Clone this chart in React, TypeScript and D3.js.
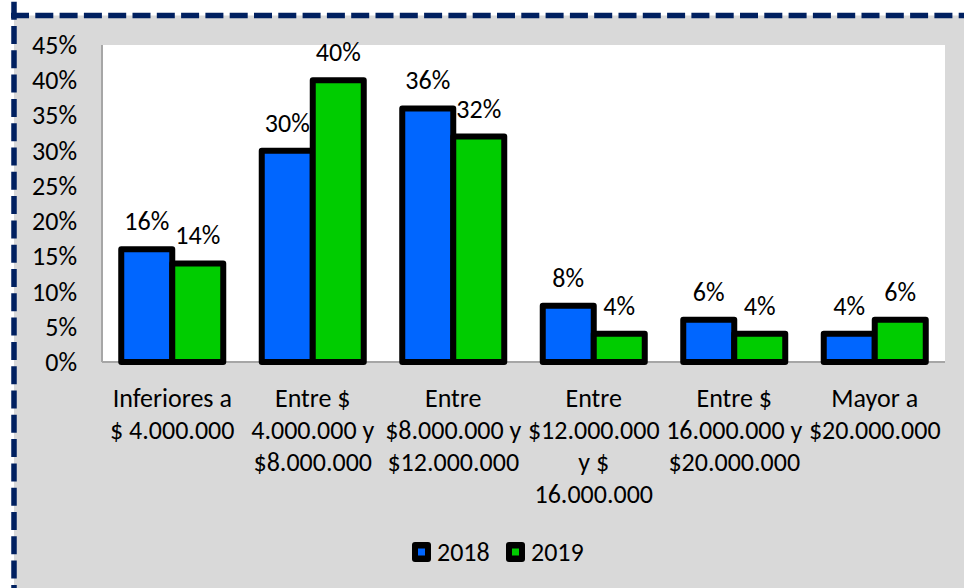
import React from "react";
import * as d3 from "d3";

const categories = [
  "Inferiores a\n$ 4.000.000",
  "Entre $\n4.000.000 y\n$8.000.000",
  "Entre\n$8.000.000 y\n$12.000.000",
  "Entre\n$12.000.000\ny $\n16.000.000",
  "Entre $\n16.000.000 y\n$20.000.000",
  "Mayor a\n$20.000.000",
];
const seriesNames = ["2018", "2019"];
const values2018 = [16, 30, 36, 8, 6, 4];
const values2019 = [14, 40, 32, 4, 4, 6];
const yTicks = [0, 5, 10, 15, 20, 25, 30, 35, 40, 45];

const W = 964;
const H = 588;
const FONT = "Carlito, Lato, 'Open Sans', sans-serif";
const FS = 26;
const colors = ["#0066ff", "#00cc00"];
const plot = { left: 102, right: 945, top: 45, bottom: 362 };

export default function App() {
  const x0 = d3
    .scaleBand<string>()
    .domain(categories)
    .range([plot.left, plot.right])
    .paddingInner(0.274)
    .paddingOuter(0.137);
  const x1 = d3
    .scaleBand<string>()
    .domain(seriesNames)
    .range([0, x0.bandwidth()]);
  const y = d3.scaleLinear().domain([0, 45]).range([plot.bottom, plot.top]);
  const series = [values2018, values2019];

  return (
    <svg
      width={W}
      height={H}
      style={{ position: "absolute", left: 0, top: 0 }}
      fontFamily={FONT}
    >
      <rect x={0} y={0} width={W} height={H} fill="#ffffff" />
      <rect x={14} y={15.5} width={W} height={H} fill="#d9d9d9" />
      <line x1={11} y1={15.5} x2={W + 10} y2={15.5} stroke="#002060" strokeWidth={5.5} strokeDasharray="18 6.3" />
      <line x1={14} y1={1.7} x2={14} y2={H + 10} stroke="#002060" strokeWidth={5.5} strokeDasharray="18 6.3" />

      <rect
        x={plot.left}
        y={plot.top}
        width={plot.right - plot.left}
        height={plot.bottom - plot.top}
        fill="#ffffff"
      />
      <line x1={plot.left} y1={plot.top} x2={plot.left} y2={plot.bottom} stroke="#a6a6a6" strokeWidth={2} />
      <line x1={plot.left} y1={plot.bottom} x2={plot.right} y2={plot.bottom} stroke="#a6a6a6" strokeWidth={2} />

      {yTicks.map((t) => (
        <text
          key={t}
          x={77}
          y={y(t)}
          textAnchor="end"
          dominantBaseline="central"
          fontSize={FS}
          fill="#000"
        >
          {t}%
        </text>
      ))}

      {series.map((vals, si) =>
        categories.map((c, ci) => {
          const bx = (x0(c) as number) + (x1(seriesNames[si]) as number);
          const bw = x1.bandwidth();
          return (
            <g key={`${si}-${ci}`}>
              <rect
                x={bx}
                y={y(vals[ci])}
                width={bw}
                height={y(0) - y(vals[ci])}
                fill={colors[si]}
                stroke="#000"
                strokeWidth={6}
                strokeLinejoin="round"
              />
            </g>
          );
        })
      )}

      {series.map((vals, si) =>
        categories.map((c, ci) => {
          const bx = (x0(c) as number) + (x1(seriesNames[si]) as number);
          const bw = x1.bandwidth();
          return (
            <text
              key={`l-${si}-${ci}`}
              x={bx + bw / 2}
              y={y(vals[ci]) - 19}
              textAnchor="middle"
              fontSize={FS}
              fill="#000"
            >
              {vals[ci]}%
            </text>
          );
        })
      )}

      {categories.map((c) => {
        const cx = (x0(c) as number) + x0.bandwidth() / 2;
        return c.split("\n").map((line, li) => (
          <text
            key={`${c}-${li}`}
            x={cx}
            y={407 + li * 32}
            textAnchor="middle"
            fontSize={FS}
            fill="#000"
          >
            {line}
          </text>
        ));
      })}

      {seriesNames.map((s, i) => {
        const lx = [412, 506][i];
        return (
          <g key={s}>
            <rect x={lx} y={542} width={19} height={20} rx={3} fill="#000" />
            <rect x={lx + 6} y={548.5} width={7} height={7} fill={colors[i]} />
            <text x={lx + 25} y={552} dominantBaseline="central" fontSize={FS} fill="#000">
              {s}
            </text>
          </g>
        );
      })}
    </svg>
  );
}
